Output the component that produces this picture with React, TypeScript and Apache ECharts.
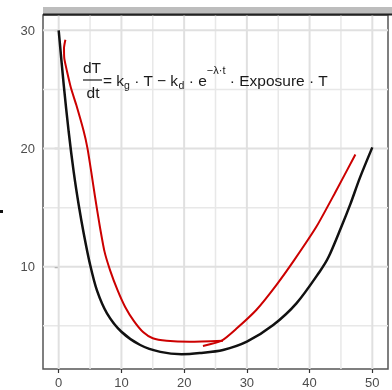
import React, { useEffect, useRef } from "react";
import * as echarts from "echarts";

const xTicks = [0, 10, 20, 30, 40, 50];
const yTicks = [10, 20, 30];
const xMinorGrid = [5, 15, 25, 35, 45];
const yMinorGrid = [5, 15, 25];

// Fitted model curve (black)
const modelCurve: [number, number][] = [
  [0, 30], [0.8, 25.4], [1.6, 21.4], [2.4, 18.0], [3.2, 15.2], [4.0, 12.8],
  [5, 10.2], [6.1, 8.0], [7.7, 6.06], [10, 4.5], [13, 3.38],
  [16.2, 2.8], [19.6, 2.6], [22.5, 2.7], [26.2, 2.96], [30, 3.66], [34.2, 5.07],
  [37.9, 6.9], [41.6, 9.58], [43, 10.8], [45, 13.3], [46.5, 15.3], [48, 17.5], [50, 20.1],
];

// Hand-drawn observed trend (red), main stroke
const handDrawn: [number, number][] = [
  [1.07, 29.2], [0.85, 28.5], [0.9, 27.6], [1.34, 26.5], [1.97, 25.1], [2.8, 23.7],
  [3.97, 21.5], [4.6, 20.0], [5.2, 18.0], [5.8, 15.9], [6.5, 13.6], [7.3, 11.3],
  [8.2, 9.7], [9.4, 8.0], [10.6, 6.6], [12.0, 5.4], [13.5, 4.45], [15.0, 3.95],
  [17.2, 3.74], [20.9, 3.66], [26.2, 3.74],
];

// Hand-drawn rising stroke (red), with the small flick at its lower end
const handDrawnTail: [number, number][] = [
  [23.0, 3.3], [26.0, 3.75], [28.4, 4.79], [31.5, 6.34], [34.7, 8.45],
  [37.6, 10.6], [41.1, 13.4], [44.0, 16.2], [47.3, 19.5],
];

const X_MIN = -2.5;
const X_MAX = 52.5;
const Y_MIN = 1.35;
const Y_MAX = 31.3;

const GRID_LEFT = 43;
const GRID_TOP = 15;
const GRID_RIGHT_EDGE = 388;
const GRID_BOTTOM_EDGE = 369;
const FONT = "Liberation Sans, Arial, sans-serif";

export default function App() {
  const ref = useRef<HTMLDivElement>(null);

  useEffect(() => {
    if (!ref.current) return;
    const chart = echarts.init(ref.current, undefined, { renderer: "svg" });

    const vLine = (v: number, color: string, width: number) => ({
      type: "line",
      data: [[v, Y_MIN], [v, Y_MAX]],
      showSymbol: false,
      z: 1,
      lineStyle: { color, width },
    });
    const hLine = (v: number, color: string, width: number) => ({
      type: "line",
      data: [[X_MIN, v], [X_MAX, v]],
      showSymbol: false,
      z: 1,
      lineStyle: { color, width },
    });

    chart.setOption({
      animation: false,
      grid: {
        left: GRID_LEFT,
        top: GRID_TOP,
        width: GRID_RIGHT_EDGE - GRID_LEFT,
        height: GRID_BOTTOM_EDGE - GRID_TOP,
        show: true,
        borderColor: "#555555",
        borderWidth: 1.5,
      },
      xAxis: {
        type: "value",
        min: X_MIN,
        max: X_MAX,
        axisLine: { show: false },
        splitLine: { show: false },
        axisTick: { show: true, customValues: xTicks, length: 4, lineStyle: { color: "#333", width: 1.2 } },
        axisLabel: {
          customValues: xTicks,
          color: "#4d4d4d",
          fontSize: 13,
          fontFamily: FONT,
          margin: 7,
        },
      },
      yAxis: {
        type: "value",
        min: Y_MIN,
        max: Y_MAX,
        axisLine: { show: false },
        splitLine: { show: false },
        axisTick: { show: true, customValues: yTicks, length: 4, lineStyle: { color: "#333", width: 1.2 } },
        axisLabel: {
          customValues: yTicks,
          color: "#4d4d4d",
          fontSize: 13,
          fontFamily: FONT,
          margin: 8,
        },
      },
      series: [
        ...xMinorGrid.map((v) => vLine(v, "#e8e8e8", 1.5)),
        ...yMinorGrid.map((v) => hLine(v, "#e8e8e8", 1.5)),
        ...xTicks.map((v) => vLine(v, "#e0e0e0", 2)),
        ...yTicks.map((v) => hLine(v, "#e0e0e0", 2)),
        {
          type: "line",
          data: modelCurve,
          smooth: 0.3,
          showSymbol: false,
          z: 3,
          lineStyle: { color: "#111111", width: 2.5 },
        },
        {
          type: "line",
          data: handDrawn,
          smooth: 0.2,
          showSymbol: false,
          z: 4,
          lineStyle: { color: "#cc0000", width: 2 },
        },
        {
          type: "line",
          data: handDrawnTail,
          smooth: 0.2,
          showSymbol: false,
          z: 4,
          lineStyle: { color: "#cc0000", width: 2 },
        },
      ],
      graphic: [
        {
          type: "rect",
          shape: { x: GRID_LEFT, y: 7, width: GRID_RIGHT_EDGE - GRID_LEFT + 4, height: 7 },
          style: { fill: "#bdbdbd" },
          z: 10,
        },
        {
          type: "line",
          shape: { x1: GRID_LEFT, y1: 14.5, x2: 392, y2: 14.5 },
          style: { stroke: "#222222", lineWidth: 2 },
          z: 10,
        },
        {
          type: "rect",
          shape: { x: 0, y: 210, width: 3, height: 3 },
          style: { fill: "#111111" },
          z: 10,
        },
        {
          type: "text",
          x: 92,
          y: 67,
          style: {
            text: "dT",
            fill: "#1a1a1a",
            fontSize: 15.5,
            fontFamily: FONT,
            align: "center",
            verticalAlign: "middle",
          },
          z: 10,
        },
        {
          type: "line",
          shape: { x1: 83, y1: 80, x2: 102, y2: 80 },
          style: { stroke: "#1a1a1a", lineWidth: 1.2 },
          z: 10,
        },
        {
          type: "text",
          x: 93,
          y: 92.5,
          style: {
            text: "dt",
            fill: "#1a1a1a",
            fontSize: 15.5,
            fontFamily: FONT,
            align: "center",
            verticalAlign: "middle",
          },
          z: 10,
        },
        {
          type: "text",
          x: 103,
          y: 80,
          style: {
            text: "{n|= k}{sub|g}{n| · T − k}{sub|d}{n| · e}{sup|−λ·t}{n| · Exposure · T}",
            align: "left",
            verticalAlign: "middle",
            fontFamily: FONT,
            rich: {
              n: { fontSize: 15.5, fill: "#1a1a1a", color: "#1a1a1a", fontFamily: FONT },
              sub: {
                fontSize: 10.5,
                fill: "#1a1a1a",
                color: "#1a1a1a",
                fontFamily: FONT,
                padding: [9, 0, 0, 0],
              },
              sup: {
                fontSize: 11,
                fill: "#1a1a1a",
                color: "#1a1a1a",
                fontFamily: FONT,
                padding: [0, 0, 20, 0],
              },
            },
          },
          z: 10,
        },
      ],
    });

    return () => chart.dispose();
  }, []);

  return (
    <div
      ref={ref}
      style={{ position: "fixed", left: 0, top: 0, width: 392, height: 390 }}
    />
  );
}
